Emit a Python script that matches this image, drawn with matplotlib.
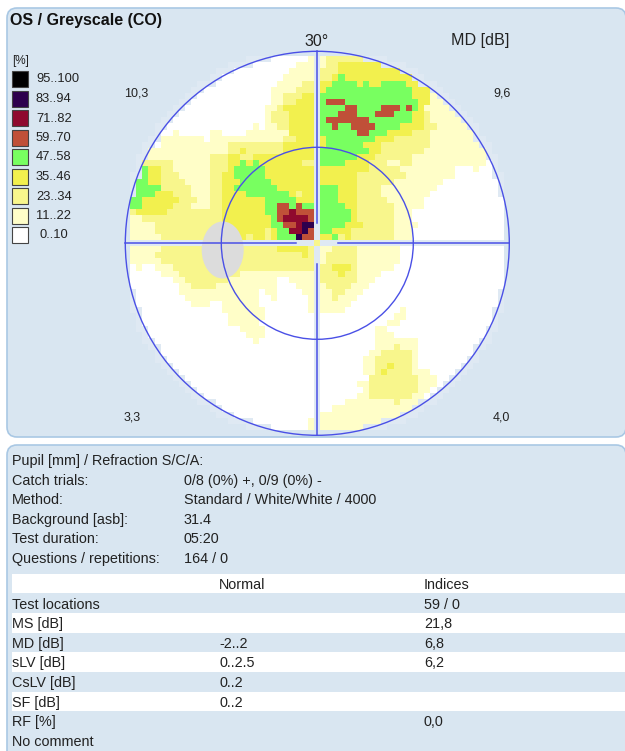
import numpy as np
import matplotlib
matplotlib.use('Agg')
import matplotlib.pyplot as plt
from matplotlib.colors import ListedColormap
from matplotlib.patches import Circle, Ellipse, FancyBboxPatch, Rectangle

plt.rcParams['font.family'] = ['Liberation Sans', 'DejaVu Sans']

BG = '#d9e6f1'
STRIPE = '#dfe9f3'
LINE = '#4a50e6'
TEXT = '#222222'

legend_labels = ['95..100', '83..94', '71..82', '59..70', '47..58', '35..46', '23..34', '11..22', '0..10']
legend_colors = ['#000000', '#2e004d', '#8f0a2e', '#c05038', '#78ff60', '#f2f04e', '#f8f68c', '#fffec8', '#ffffff']

# levels per cell: 0 white .. 8 black, rows from the top, trailing white left out
top_left = [
    '000000000000000000000000000001',
    '000000000000000000000000000111',
    '000000000000000000000000001111',
    '000000000000000000000000011111',
    '000000000000000000000000111122',
    '000000000000000000000001111222',
    '000000000000000000000001122233',
    '000000000000000000000001122333',
    '000000000000000000000011233333',
    '000000000000000000000012223333',
    '000000000000000000000012223333',
    '000000000000000000001011223333',
    '000000010000011000011111113333',
    '000001111111011111111111122333',
    '000001111111111122222222233333',
    '000111111111111122322222233333',
    '001111111111122233223333333333',
    '002222211111122233434333333322',
    '004332211111122234444433333333',
    '044332221111122334444433333333',
    '044332222111122333444443333333',
    '044442222211122334444444333333',
    '044433322211122333344444443233',
    '443333332221122333333344444333',
    '443333322211122333333344554544',
    '233333222222222333333344556555',
    '112222222222222333333334566665',
    '111122222222222333333334455677',
    '111122222222222333333323446675',
    '111112222222222333323323444755',
]
top_right = [
    '1222222',
    '1223333333',
    '2223333333333',
    '223433333333333',
    '3344443433444433',
    '344444444444444333',
    '4444444444444443331',
    '45554444444444443311',
    '444455444455545431111',
    '4445554445554443321111',
    '45555555444444433211111',
    '445445555444433332211111',
    '4444445544433332221111111',
    '3444444443332222221111111',
    '34444443332222222211111111',
    '444444443322222221111111111',
    '444444333222222111111111111',
    '4444333322211221111111111110',
    '3333333322222111111111000100',
    '3333332222222211111111000000',
    '33333322222211111111',
    '4443332222111111111',
    '444333222211111111',
    '44433322222111111',
    '44443322222211111',
    '444443222222111',
    '444443222222111',
    '4444333222221111',
    '443332222222111',
    '334232222222111',
]
bottom_left = [
    '111112222222222222222222333332',
    '111122222222222222222222222232',
    '111112222222222222222222222222',
    '010011122222222222222222222222',
    '000001112222222222111111111111',
    '000000011222222211111111001111',
    '000000001122221111111111000111',
    '000000001111111111111011000011',
    '000000000111111111111001000001',
    '000000000011100111111000000001',
    '000000000000000111111100000001',
    '000000000000000011111100',
    '0000000000000000111110',
    '00000000000000000011110',
    '0000000000000000000111',
    '00000000000000000000100',
    '', '', '', '', '', '', '', '', '', '', '', '',
    '000000000000000000000000000001',
    '000000000000000000000000000001',
]
bottom_right = [
    '1122221111111',
    '1222221111111',
    '1222221111111',
    '223332111111',
    '2223221111',
    '222222111',
    '12222111',
    '1122111',
    '112111',
    '11111',
    '11110000000001',
    '00000000000011',
    '0000000000011',
    '00000000011',
    '000000000111',
    '0000000001111111',
    '0000000001112111',
    '0000000011222221',
    '000000011222222100',
    '0000000112232221',
    '000000011232222111',
    '0000000022222222111',
    '0000001122222222111',
    '000000012222222211',
    '00000011222222211',
    '0000111111112111',
    '001111111111111',
    '1111111111111',
    '1111111111',
    '1111111',
]

center_x, center_y, cell = 317.3, 243.3, 6.13
r_outer, r_inner = 192, 96
blind_spot = (222.7, 250, 42, 57)


def to_rows(rows):
    return [[int(ch) for ch in row.ljust(30, '0')[:30]] for row in rows]


# 61 x 61 grid, middle row and column stay as the pale cross
STRIPE_LEVEL = 9
grid = np.full((61, 61), STRIPE_LEVEL)
grid[:30, :30] = to_rows(top_left)
grid[:30, 31:] = to_rows(top_right)
grid[31:, :30] = to_rows(bottom_left)
grid[31:, 31:] = to_rows(bottom_right)
grid[30, 30] = 2

ii, jj = np.indices(grid.shape)
dist = np.hypot(ii - 30, jj - 30)
grid[dist > 31] = STRIPE_LEVEL
grid_masked = np.ma.masked_where(dist > 32.3, grid)

level_colors = legend_colors[::-1] + [STRIPE]
cmap = ListedColormap(level_colors)

fig = plt.figure(figsize=(6.25, 7.51), dpi=100)
ax = fig.add_axes([0, 0, 1, 1])
ax.set_xlim(0, 625)
ax.set_ylim(751, 0)
ax.axis('off')

for y0, y1 in [(8, 437), (445, 790)]:
    ax.add_patch(FancyBboxPatch((7, y0), 619, y1 - y0, boxstyle='round,pad=0,rounding_size=10',
                                fc=BG, ec='#a9c8e4', lw=1.2))

half = 30.5 * cell
ax.imshow(grid_masked, cmap=cmap, vmin=-0.5, vmax=9.5, interpolation='nearest', aspect='auto',
          extent=(center_x - half, center_x + half, center_y + half, center_y - half), zorder=2)
ax.set_xlim(0, 625)
ax.set_ylim(751, 0)

ax.add_patch(Ellipse(blind_spot[:2], blind_spot[2], blind_spot[3], fc='#dcdcdc', ec='none', zorder=3))

for r in (r_outer, r_inner):
    ax.add_patch(Circle((center_x, center_y), r, fc='none', ec=LINE, lw=1.0, zorder=4))
ax.plot([center_x, center_x], [center_y - r_outer, 223], color=LINE, lw=1.1, zorder=4)
ax.plot([center_x, center_x], [264, center_y + r_outer], color=LINE, lw=1.1, zorder=4)
ax.plot([center_x - r_outer, 296], [center_y, center_y], color=LINE, lw=1.1, zorder=4)
ax.plot([338, center_x + r_outer], [center_y, center_y], color=LINE, lw=1.1, zorder=4)

ax.text(10, 20, 'OS / Greyscale (CO)', fontsize=11.5, fontweight='bold', color='#111111', va='center')
ax.text(317, 41, '30°', fontsize=11.5, color=TEXT, ha='center', va='center')
ax.text(451, 41, 'MD [dB]', fontsize=11.6, color=TEXT, va='center')
for x, y, s in [(124, 93, '10,3'), (493, 93, '9,6'), (124, 418, '3,3'), (493, 418, '4,0')]:
    ax.text(x, y, s, fontsize=9, color=TEXT, va='center')

ax.text(12, 61, '[%]', fontsize=8.5, color=TEXT, va='center')
for k, (lab, col) in enumerate(zip(legend_labels, legend_colors)):
    y = 71 + k * 19.5
    ax.add_patch(Rectangle((12, y), 15.5, 16, fc=col, ec='#444444', lw=0.8))
    ax.text(40 if lab == '0..10' else 36, y + 8.5, lab, fontsize=9.3, color=TEXT, va='center')

info_labels = ['Pupil [mm] / Refraction S/C/A:', 'Catch trials:', 'Method:', 'Background [asb]:',
               'Test duration:', 'Questions / repetitions:']
info_values = ['', '0/8 (0%) +, 0/9 (0%) -', 'Standard / White/White / 4000', '31.4', '05:20', '164 / 0']
table_rows = ['', 'Test locations', 'MS [dB]', 'MD [dB]', 'sLV [dB]', 'CsLV [dB]', 'SF [dB]', 'RF [%]', 'No comment']
table_normal = ['Normal', '', '', '-2..2', '0..2.5', '0..2', '0..2', '', '']
table_indices = ['Indices', '59 / 0', '21,8', '6,8', '6,2', '', '', '0,0', '']

FS = 10.4
for k, (lab, val) in enumerate(zip(info_labels, info_values)):
    y = 461 + k * 19.6
    ax.text(12, y, lab, fontsize=FS, color=TEXT, va='center')
    ax.text(184, y, val, fontsize=FS, color=TEXT, va='center')

for k, (lab, norm, ind) in enumerate(zip(table_rows, table_normal, table_indices)):
    y = 585 + k * 19.6
    if k % 2 == 0 and k < 7:
        ax.add_patch(Rectangle((12, y - 11), 613, 19.4, fc='white', ec='none'))
    ax.text(12, y, lab, fontsize=FS, color=TEXT, va='center')
    ax.text(219, y, norm, fontsize=FS, color=TEXT, va='center')
    ax.text(424, y, ind, fontsize=FS, color=TEXT, va='center')

fig.savefig('out.png', dpi=100, facecolor='white')
